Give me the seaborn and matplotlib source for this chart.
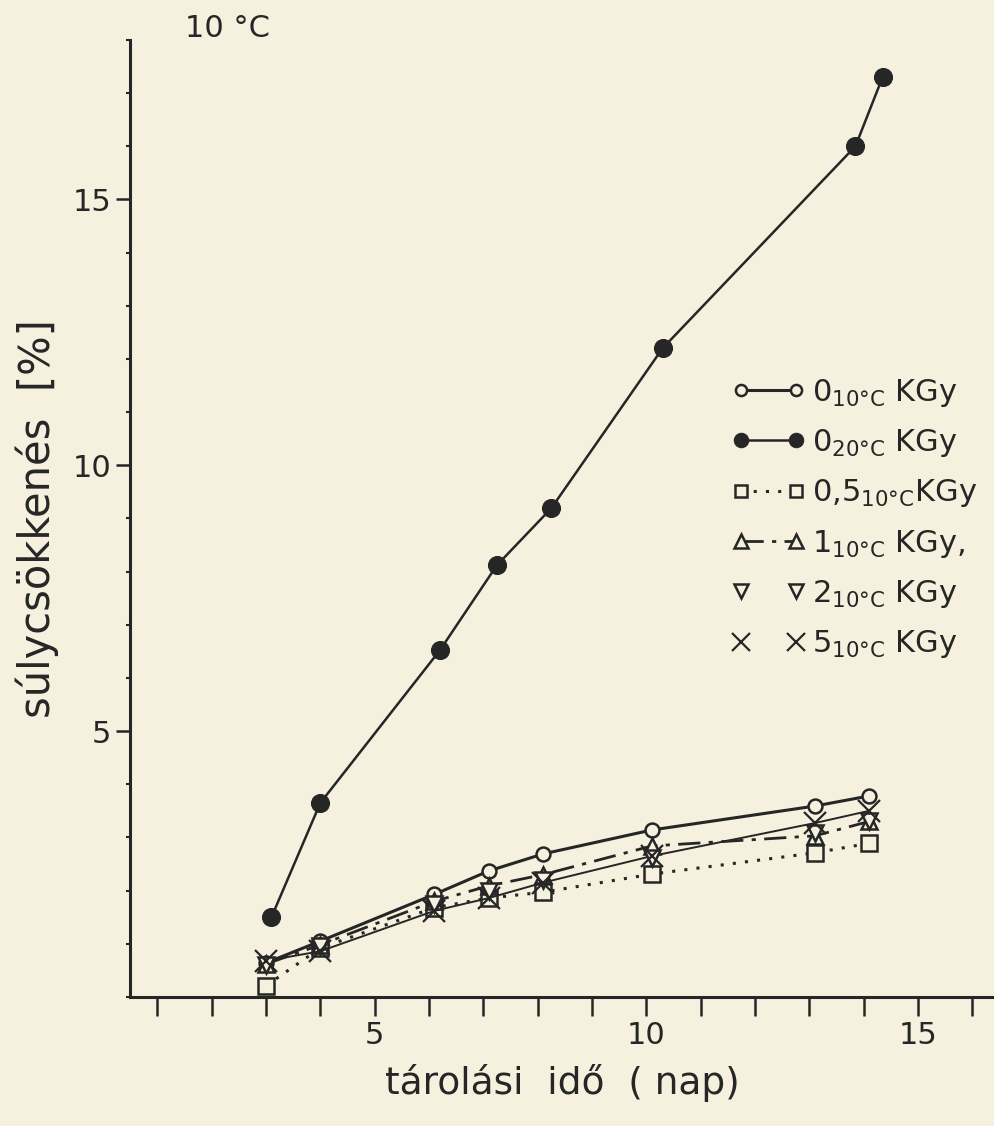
import matplotlib
matplotlib.use("Agg")
import matplotlib.pyplot as plt
from matplotlib.ticker import MultipleLocator, FixedLocator
import seaborn as sns

# storage time (days)
days = [3.0, 4.0, 6.1, 7.1, 8.1, 10.1, 13.1, 14.1]
days_20 = [3.1, 4.0, 6.2, 7.25, 8.25, 10.3, 13.85, 14.35]

# weight loss (%)
loss_0_10 = [0.64, 1.05, 1.93, 2.37, 2.69, 3.14, 3.59, 3.78]
loss_0_20 = [1.5, 3.65, 6.52, 8.12, 9.19, 12.2, 16.0, 17.3]
loss_05_10 = [0.21, 0.92, 1.68, 1.86, 1.97, 2.31, 2.71, 2.89]
loss_1_10 = [0.62, 0.98, 1.80, 2.09, 2.30, 2.84, 3.03, 3.30]
loss_2_10 = [0.60, 0.95, 1.75, 2.00, 2.20, 2.61, 3.08, 3.30]
loss_5_10 = [0.68, 0.86, 1.62, 1.86, 2.15, 2.65, 3.27, 3.50]

paper = "#f5f1de"
ink = "#262626"

sns.set_style("ticks")
plt.rcParams["font.family"] = ["DejaVu Sans"]
plt.rcParams["mathtext.default"] = "regular"

fig = plt.figure(figsize=(9.94, 11.26), dpi=100, facecolor=paper)
ax = fig.add_axes([0.131, 0.1146, 0.869, 0.85])
ax.set_facecolor(paper)

# 0 KGy, 20 C
sns.lineplot(x=days_20, y=loss_0_20, ax=ax, sort=False, color=ink, lw=1.8,
             marker="o", markersize=13, markerfacecolor=ink, markeredgecolor=ink,
             label="$0_{20°C}$ KGy")
# 0 KGy, 10 C
sns.lineplot(x=days, y=loss_0_10, ax=ax, sort=False, color=ink, lw=2.2,
             marker="o", markersize=10, markerfacecolor=paper, markeredgecolor=ink,
             markeredgewidth=1.8, label="$0_{10°C}$ KGy")
# 0.5 KGy
sns.lineplot(x=days, y=loss_05_10, ax=ax, sort=False, color=ink, lw=2.2,
             linestyle=(0, (1, 3)), marker="s", markersize=11,
             markerfacecolor=paper, markeredgecolor=ink, markeredgewidth=1.8,
             label="$0{,}5_{10°C}$KGy")
# 1 KGy
sns.lineplot(x=days, y=loss_1_10, ax=ax, sort=False, color=ink, lw=2.0,
             linestyle=(0, (8, 3, 1.5, 3)), marker="^", markersize=12,
             markerfacecolor=paper, markeredgecolor=ink, markeredgewidth=1.8,
             label="$1_{10°C}$ KGy,")
# thin line through the 5 KGy points
sns.lineplot(x=days, y=loss_5_10, ax=ax, sort=False, color=ink, lw=1.4)
# 2 KGy
sns.lineplot(x=days, y=loss_2_10, ax=ax, sort=False, color=ink, linestyle="none",
             marker="v", markersize=12, markerfacecolor=paper, markeredgecolor=ink,
             markeredgewidth=1.8, label="$2_{10°C}$ KGy")
# 5 KGy
sns.lineplot(x=days, y=loss_5_10, ax=ax, sort=False, color=ink, linestyle="none",
             marker="x", markersize=16, markeredgewidth=1.6, markeredgecolor=ink,
             markerfacecolor=ink, label="$5_{10°C}$ KGy")

ax.set_xlim(0.5, 16.4)
ax.set_ylim(0, 18)
ax.xaxis.set_major_locator(MultipleLocator(5))
ax.xaxis.set_minor_locator(MultipleLocator(1))
ax.yaxis.set_major_locator(FixedLocator([5, 10, 15]))
ax.yaxis.set_minor_locator(MultipleLocator(1))
ax.tick_params(axis="both", which="major", labelsize=22, colors=ink, width=1.8, length=14)
ax.tick_params(axis="x", which="minor", width=1.8, length=14, colors=ink)
ax.tick_params(axis="y", which="minor", width=1.5, length=3, colors=ink)
ax.tick_params(axis="y", which="major", length=10)

sns.despine(ax=ax)
for s in ["left", "bottom"]:
    ax.spines[s].set_linewidth(2.2)
    ax.spines[s].set_color(ink)

ax.set_xlabel("tárolási  idő  ( nap)", fontsize=27, color=ink, labelpad=10)
ax.set_ylabel("súlycsökkenés  [%]", fontsize=30, color=ink, labelpad=10)
fig.text(0.186, 0.975, "10 °C", fontsize=22, color=ink, va="center")

handles, labels = ax.get_legend_handles_labels()
order = [1, 0, 2, 3, 4, 5]
ax.legend([handles[i] for i in order], [labels[i] for i in order],
          loc="center left", bbox_to_anchor=(0.665, 0.5), frameon=False,
          fontsize=22, handlelength=2.4, numpoints=2, markerscale=0.8,
          labelspacing=0.6, handletextpad=0.2, labelcolor=ink)

fig.savefig("out.png", dpi=100, facecolor=paper)
